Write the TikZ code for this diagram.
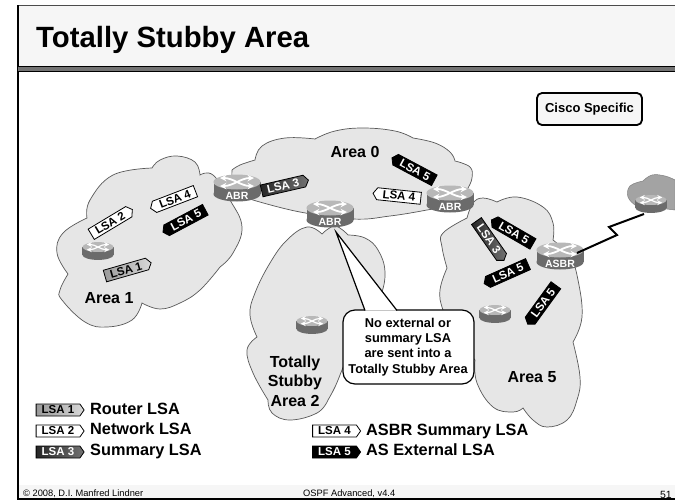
\documentclass[tikz,border=0pt]{standalone}
\usepackage{fontspec}
\setmainfont{Liberation Sans}
\usetikzlibrary{calc,shapes.symbols}
\definecolor{cloudgray}{HTML}{E6E6E6}
\definecolor{bandgray}{HTML}{F6F6F6}
\tikzset{
  cloud area/.style={draw=black!65,fill=cloudgray,line width=0.7pt},
  lobe/.style={smooth,tension=0.7},
  lsatag/.style={shape=signal,draw=black,line width=0.8pt,inner sep=0pt,signal pointer angle=110,
    minimum width=48pt,minimum height=12pt,font=\fontsize{11.5}{12}\selectfont\bfseries},
  lsaone/.style={lsatag,left color=black!40,right color=black!15,text=black},
  lsatwo/.style={lsatag,fill=white,text=black},
  lsathree/.style={lsatag,left color=black!85,right color=black!55,text=white},
  lsafour/.style={lsatag,fill=white,text=black},
  lsafive/.style={lsatag,fill=black,text=white},
  arealabel/.style={font=\fontsize{16}{19.5}\selectfont\bfseries,align=center},
  legendtext/.style={anchor=base west,inner sep=0pt,font=\fontsize{16.3}{17}\selectfont\bfseries},
  routertext/.style={text=white,font=\fontsize{10.5}{11}\selectfont\bfseries,inner sep=0pt},
  footertext/.style={font=\fontsize{9.3}{10}\selectfont,inner sep=0pt}
}
\newcommand{\router}[3]{
  \coordinate (#1) at (#2);
  \begin{scope}[shift={(#2)},scale=#3]
    \fill[black!58] (0,6) ellipse [x radius=23.5,y radius=7.5];
    \fill[black!58] (-23.5,-6) rectangle (23.5,6);
    \fill[black!28] (0,-6) ellipse [x radius=23.5,y radius=7.5];
    \draw[white,line width=#3*1.8pt,stealth-stealth] (-17,-10) .. controls (-4,-10) and (4,-2) .. (17,-2);
    \draw[white,line width=#3*1.8pt,stealth-stealth] (-17,-2) .. controls (-4,-2) and (4,-10) .. (17,-10);
  \end{scope}
}
\begin{document}
\begin{tikzpicture}[x=1pt,y=-1pt]
  \useasboundingbox (0,0) rectangle (675,501);
  \fill[white] (0,0) rectangle (675,501);
  \fill[bandgray] (18,5) rectangle (675,67);
  \fill[bandgray] (18,485) rectangle (675,499);
  \draw[black!70,line width=0.8pt] (18,5) -- (675,5);
  \draw[line width=1.4pt] (18,5) -- (18,499) -- (675,499);
  \fill[black!55] (18,66) rectangle (675,71.5);
  \draw[line width=1pt] (18,66) -- (675,66);
  \draw[line width=0.8pt] (18,71.5) -- (675,71.5);
  \node[anchor=base west,font=\fontsize{29.3}{30}\selectfont\bfseries,inner sep=0pt] (title) at (36,47) {Totally Stubby Area};
  \node[draw,line width=1.8pt,rounded corners=5pt,fill=bandgray,minimum width=105pt,minimum height=32pt,inner sep=0pt,
    font=\fontsize{13}{14}\selectfont\bfseries] (cisco) at (589.5,109) {Cisco Specific};

  \draw[cloud area] plot[lobe] coordinates {(322,234) (335,226) (348,235)}
    -- plot[lobe] coordinates {(348,235) (365,238) (378,250) (385,272) (380,297) (368,312)}
    -- plot[lobe] coordinates {(368,312) (352,345) (342,370) (335,387) (328,400)}
    -- plot[lobe] coordinates {(328,400) (317,413) (290,420) (272,413) (268,400)}
    -- plot[lobe] coordinates {(268,400) (253,373) (247,350) (257,337)}
    -- plot[lobe] coordinates {(257,337) (250,315) (255,293) (270,263) (287,240) (307,227) (322,234)} -- cycle;
  \draw[cloud area] plot[lobe] coordinates {(87,218) (90,200) (113,175) (152,168)}
    -- plot[lobe] coordinates {(152,168) (160,160) (177,156) (195,162) (200,175)}
    -- plot[lobe] coordinates {(200,175) (213,175) (230,200) (242,227) (233,253) (220,267)}
    -- plot[lobe] coordinates {(220,267) (200,290) (180,303) (160,309) (142,303)}
    -- plot[lobe] coordinates {(142,303) (132,320) (107,327) (85,322) (62,300) (60,290) (68,274)}
    -- plot[lobe] coordinates {(68,274) (57,253) (63,233) (87,218)} -- cycle;
  \draw[cloud area] plot[lobe] coordinates {(232,170) (240,165) (255,160)}
    -- plot[lobe] coordinates {(255,160) (262,146) (285,138) (315,139)}
    -- plot[lobe] coordinates {(315,139) (335,131) (363,128) (395,131) (413,138)}
    -- plot[lobe] coordinates {(413,138) (435,143) (450,152) (455,161)}
    -- plot[lobe] coordinates {(455,161) (470,167) (472,178) (468,188)}
    -- plot[lobe] coordinates {(468,188) (450,205) (427,210) (390,216) (353,219) (300,212) (253,200)}
    -- plot[lobe] coordinates {(253,200) (235,190) (232,170)} -- cycle;
  \draw[cloud area] plot[lobe] coordinates {(467,218) (473,203) (483,198) (497,202)}
    -- plot[lobe] coordinates {(497,202) (517,197) (543,207) (553,223) (553,240)}
    -- plot[lobe] coordinates {(553,240) (570,257) (578,280) (582,317) (573,342)}
    -- plot[lobe] coordinates {(573,342) (580,377) (577,400) (567,420) (547,427) (533,420) (523,408)}
    -- plot[lobe] coordinates {(523,408) (513,412) (493,407) (477,383) (475,360)}
    -- plot[lobe] coordinates {(475,360) (455,335) (443,310) (440,290) (447,268)}
    -- plot[lobe] coordinates {(447,268) (442,247) (443,233) (467,218)} -- cycle;
  \fill[black!36,draw=black!50,line width=0.5pt] plot[lobe] coordinates {(635,205) (628,197) (630,186) (643,181)}
    -- plot[lobe] coordinates {(643,181) (652,175) (665,176) (675,180)} -- (675,210) -- cycle;

  \foreach \n/\p/\l in {abrleft/{237,188}/ABR,abrmid/{330,214}/ABR,abrright/{450,199}/ABR,asbr/{560,256}/ASBR} {
    \router{\n}{\p}{1}
    \node[routertext] (\n label) at ($(\n)+(0,7.5)$) {\l};
  }
  \foreach \n/\p in {rone/{98,251},rtwo/{312,325},rfive/{495,314},rext/{651,204}} {
    \router{\n}{\p}{0.66}
  }
  \coordinate (zigup) at (617,235);
  \coordinate (zigdown) at (609,227);
  \draw[line width=2pt] ($(asbr)+(17,-3)$) -- (zigup) -- (zigdown) -- ($(rext)+(-7,10)$);

  \node[lsaone,signal to=east,rotate=16] (tagone) at (126,270) {LSA 1};
  \node[lsatwo,signal to=east,rotate=31] (tagtwo) at (110,223) {LSA 2};
  \node[lsafour,signal to=west,rotate=21] (tagfour) at (175,199) {LSA 4};
  \node[lsafive,signal to=west,rotate=28] (tagfive) at (186,220) {LSA 5};
  \node[lsathree,signal to=east,rotate=13] (tagthree) at (283,186) {LSA 3};
  \node[lsafive,signal to=west,rotate=-28] (tagzerofive) at (415,170) {LSA 5};
  \node[lsafour,signal to=west,rotate=-6] (tagzerofour) at (399,196) {LSA 4};
  \node[lsathree,signal to=east,rotate=-55] (tagareathree) at (489,239) {LSA 3};
  \node[lsafive,signal to=west,rotate=-30] (tagareaa) at (514,233) {LSA 5};
  \node[lsafive,signal to=west,rotate=24] (tagareab) at (508,273) {LSA 5};
  \node[lsafive,signal to=west,rotate=54] (tagareac) at (543,303) {LSA 5};

  \node[arealabel] (areazero) at (355,152) {Area 0};
  \node[arealabel] (areaone) at (109,298) {Area 1};
  \node[arealabel] (areatwo) at (295,381) {Totally\\Stubby\\Area 2};
  \node[arealabel] (areafive) at (532,377) {Area 5};

  \draw[line width=1.2pt,fill=white,rounded corners=12pt] (343,310) -- (474,310) -- (474,384) -- (343,384) -- cycle;
  \coordinate (calloutleft) at (365,310.5);
  \coordinate (calloutright) at (397,310.5);
  \coordinate (callouttip) at (336,232);
  \fill[white] (calloutleft) -- (callouttip) -- (calloutright) -- cycle;
  \draw[line width=1.2pt] (calloutleft) -- (callouttip) -- (calloutright);
  \node[align=center,inner sep=0pt,font=\fontsize{12.8}{15.3}\selectfont\bfseries] (calloutnote) at (408,347)
    {No external or\\summary LSA\\are sent into a\\Totally Stubby Area};

  \foreach[count=\i] \s/\l/\d in {lsaone/LSA 1/Router LSA,lsatwo/LSA 2/Network LSA,lsathree/LSA 3/Summary LSA} {
    \node[\s,signal to=east] (legend\i) at (58,389+\i*21) {\l};
    \node[legendtext] (legendtext\i) at (90,393.5+\i*20.5) {\d};
  }
  \foreach[count=\i] \s/\l/\d in {lsafour/LSA 4/ASBR Summary LSA,lsafive/LSA 5/AS External LSA} {
    \node[\s,signal to=east] (legendb\i) at (334.5,410+\i*21) {\l};
    \node[legendtext] (legendbtext\i) at (366,415+\i*20) {\d};
  }

  \node[footertext,anchor=west] (footleft) at (23,494) {© 2008, D.I. Manfred Lindner};
  \node[footertext,anchor=west] (footmid) at (303,494) {OSPF Advanced, v4.4};
  \node[anchor=east,inner sep=0pt,font=\fontsize{10.5}{11}\selectfont] (footpage) at (672,495) {51};
\end{tikzpicture}
\end{document}
